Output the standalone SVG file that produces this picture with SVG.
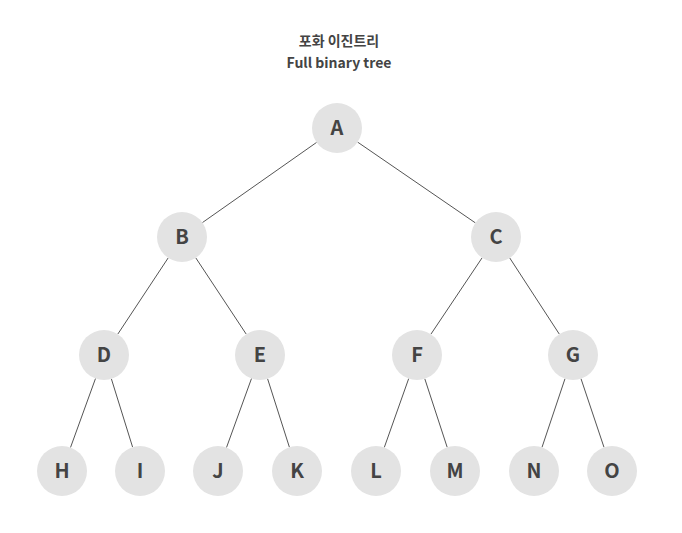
<svg xmlns="http://www.w3.org/2000/svg" width="682" height="533" viewBox="0 0 682 533">
<style>
.title{font-family:"Noto Sans CJK KR","Noto Sans",sans-serif;font-size:14px;font-weight:bold;fill:#444;text-anchor:middle}
.node circle{fill:#e3e3e3}
.node text{font-family:"Noto Sans CJK KR","Noto Sans",sans-serif;font-size:20px;font-weight:bold;fill:#444;text-anchor:middle}
.edges line{stroke:#555;stroke-width:1}
</style>
<rect width="682" height="533" fill="#fff"/>
<text class="title" x="339" y="46">포화 이진트리</text>
<text class="title" x="339" y="68">Full binary tree</text>
<g class="edges" id="connectors">
<line x1="316.6" y1="142.4" x2="202.4" y2="222.6"/>
<line x1="357.6" y1="142.1" x2="475.4" y2="222.9"/>
<line x1="168.2" y1="257.9" x2="117.8" y2="334.1"/>
<line x1="195.8" y1="257.9" x2="246.2" y2="334.1"/>
<line x1="482.1" y1="257.8" x2="430.9" y2="334.2"/>
<line x1="509.7" y1="257.9" x2="559.3" y2="334.1"/>
<line x1="95.5" y1="378.5" x2="70.5" y2="447.5"/>
<line x1="111.4" y1="378.9" x2="132.6" y2="447.1"/>
<line x1="251.5" y1="378.5" x2="226.5" y2="447.5"/>
<line x1="267.6" y1="378.8" x2="289.4" y2="447.2"/>
<line x1="408.7" y1="378.6" x2="384.3" y2="447.4"/>
<line x1="424.8" y1="378.8" x2="447.2" y2="447.3"/>
<line x1="565.0" y1="378.7" x2="542.0" y2="447.3"/>
<line x1="581.0" y1="378.7" x2="604.0" y2="447.3"/>
</g>
<g class="node" id="A"><circle cx="337" cy="128" r="25"/><text x="337" y="135">A</text></g>
<g class="node" id="B"><circle cx="182" cy="237" r="25"/><text x="182" y="244">B</text></g>
<g class="node" id="C"><circle cx="496" cy="237" r="25"/><text x="496" y="244">C</text></g>
<g class="node" id="D"><circle cx="104" cy="355" r="25"/><text x="104" y="362">D</text></g>
<g class="node" id="E"><circle cx="260" cy="355" r="25"/><text x="260" y="362">E</text></g>
<g class="node" id="F"><circle cx="417" cy="355" r="25"/><text x="417" y="362">F</text></g>
<g class="node" id="G"><circle cx="573" cy="355" r="25"/><text x="573" y="362">G</text></g>
<g class="node" id="H"><circle cx="62" cy="471" r="25"/><text x="62" y="478">H</text></g>
<g class="node" id="I"><circle cx="140" cy="471" r="25"/><text x="140" y="478">I</text></g>
<g class="node" id="J"><circle cx="218" cy="471" r="25"/><text x="218" y="478">J</text></g>
<g class="node" id="K"><circle cx="297" cy="471" r="25"/><text x="297" y="478">K</text></g>
<g class="node" id="L"><circle cx="376" cy="471" r="25"/><text x="376" y="478">L</text></g>
<g class="node" id="M"><circle cx="455" cy="471" r="25"/><text x="455" y="478">M</text></g>
<g class="node" id="N"><circle cx="534" cy="471" r="25"/><text x="534" y="478">N</text></g>
<g class="node" id="O"><circle cx="612" cy="471" r="25"/><text x="612" y="478">O</text></g>
</svg>
